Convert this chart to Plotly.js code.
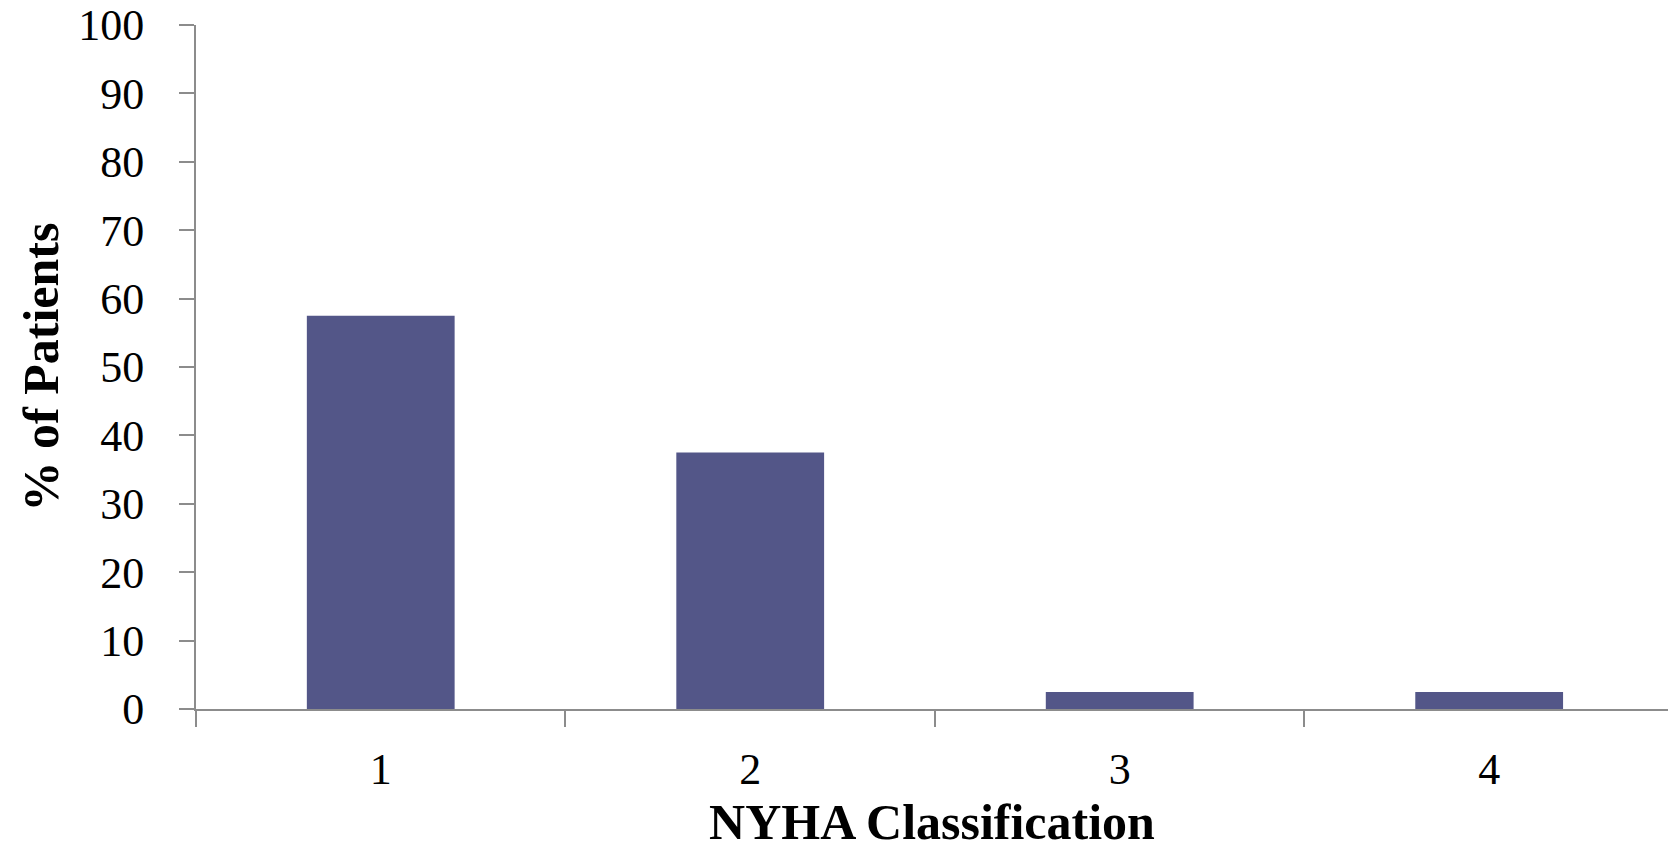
<!DOCTYPE html>
<html>
<head>
<meta charset="utf-8">
<script src="https://cdn.plot.ly/plotly-3.0.1.min.js"></script>
<style>html,body{margin:0;padding:0;background:#fff;}#chart{width:1668px;height:854px;}</style>
</head>
<body>
<div id="chart"></div>
<script>
const categories = ["1", "2", "3", "4"];
const patientsPct = [57.5, 37.5, 2.5, 2.5];
const yTickVals = [0, 10, 20, 30, 40, 50, 60, 70, 80, 90, 100];
const xTitle = "NYHA Classification";
const yTitle = "% of Patients";

const serif = "Liberation Serif, Times New Roman, serif";
const axisGray = "#8c8c8c";

const trace = {
  type: "bar",
  x: categories,
  y: patientsPct,
  marker: {color: "#535688", line: {width: 0}},
  hoverinfo: "x+y"
};

const layout = {
  width: 1668,
  height: 854,
  margin: {l: 196, r: 0, t: 25, b: 145, pad: 0},
  paper_bgcolor: "#ffffff",
  plot_bgcolor: "#ffffff",
  bargap: 0.6,
  showlegend: false,
  font: {family: serif, color: "#000000"},
  xaxis: {
    type: "category",
    range: [-0.5, 3.484],
    tickson: "boundaries",
    ticks: "outside",
    ticklen: 16,
    tickwidth: 2,
    tickcolor: axisGray,
    showline: true,
    linecolor: axisGray,
    linewidth: 2,
    showgrid: false,
    zeroline: false,
    tickfont: {family: serif, size: 44, color: "#000000"},
    ticklabelstandoff: 20,
    title: {text: xTitle, font: {family: serif, size: 50, color: "#000000", weight: "bold"}, standoff: 4},
    fixedrange: true
  },
  yaxis: {
    range: [0, 100],
    tickmode: "array",
    tickvals: yTickVals,
    ticktext: yTickVals.map(String),
    ticks: "outside",
    ticklen: 15,
    tickwidth: 2,
    tickcolor: axisGray,
    showline: true,
    linecolor: axisGray,
    linewidth: 2,
    showgrid: false,
    zeroline: false,
    tickfont: {family: serif, size: 44, color: "#000000"},
    ticklabelstandoff: 26,
    title: {text: yTitle, font: {family: serif, size: 50, color: "#000000", weight: "bold"}, standoff: 4},
    fixedrange: true
  }
};

Plotly.newPlot("chart", [trace], layout, {displayModeBar: false, staticPlot: true});
</script>
</body>
</html>
